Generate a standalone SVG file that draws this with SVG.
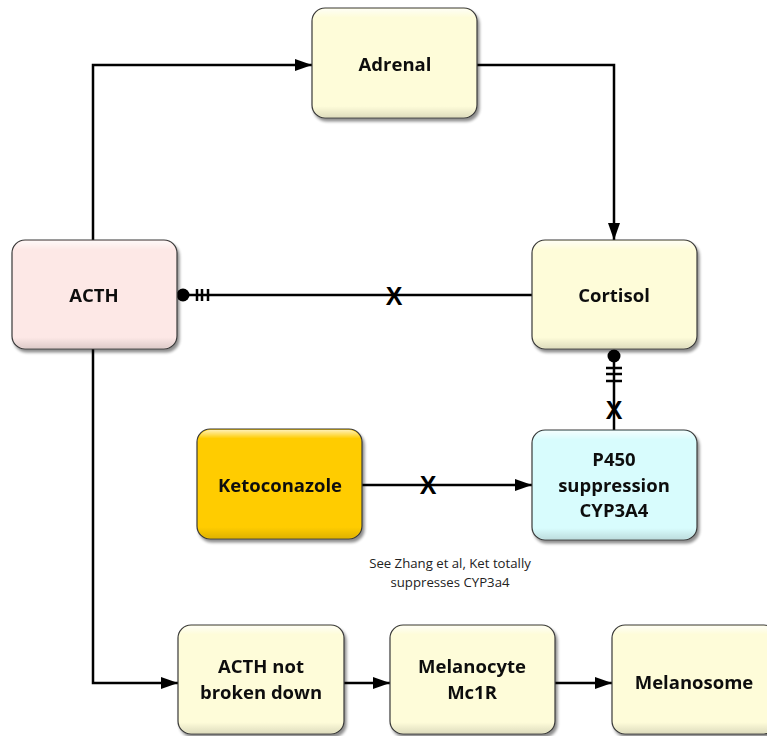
<svg xmlns="http://www.w3.org/2000/svg" width="767" height="736" viewBox="0 0 767 736">
<defs>
<filter id="sh" x="-10%" y="-10%" width="125%" height="130%">
<feGaussianBlur in="SourceAlpha" stdDeviation="1.5"/>
<feOffset dx="1.5" dy="2.5" result="b"/>
<feComponentTransfer><feFuncA type="linear" slope="0.45"/></feComponentTransfer>
<feMerge><feMergeNode/><feMergeNode in="SourceGraphic"/></feMerge>
</filter>
<linearGradient id="hl" x1="0" y1="0" x2="0" y2="1">
<stop offset="0" stop-color="#fff" stop-opacity="0.7"/>
<stop offset="0.08" stop-color="#fff" stop-opacity="0"/>
<stop offset="0.9" stop-color="#000" stop-opacity="0"/>
<stop offset="1" stop-color="#000" stop-opacity="0.12"/>
</linearGradient>
<marker id="ar" viewBox="0 0 17 12" refX="17" refY="6" markerWidth="17" markerHeight="12" markerUnits="userSpaceOnUse" orient="auto">
<path d="M0,0 L17,6 L0,12 Z" fill="#000"/>
</marker>
</defs>
<style>
.box{stroke:#3a3a3a;stroke-width:1.2}
.y{fill:#fefcd9}
.hl{fill:url(#hl);stroke:none}
.lbl{font-family:"Open Sans","Liberation Sans",sans-serif;font-weight:bold;font-size:18.5px;fill:#111;text-anchor:middle}
.ln{fill:none;stroke:#000;stroke-width:2.5}
.x{font-family:"Liberation Sans",sans-serif;font-weight:bold;font-size:25px;fill:#000;text-anchor:middle}
.note{font-family:"Open Sans","Liberation Sans",sans-serif;font-size:13.2px;fill:#222;text-anchor:middle}
</style>
<g id="connectors">
<path class="ln" d="M93,240 V65 H312" marker-end="url(#ar)"/>
<path class="ln" d="M477,65 H614 V240" marker-end="url(#ar)"/>
<path class="ln" d="M532,295 H183"/>
<circle cx="183" cy="295" r="6.5"/>
<path class="ln" d="M197,289 v12 M202,289 v12 M208,289 v12" stroke-width="2"/>
<text class="x" x="394" y="305">X</text>
<path class="ln" d="M614,356 V430"/>
<circle cx="614" cy="356" r="6.5"/>
<path class="ln" d="M606,368 h16 M606,374 h16 M606,381 h16" stroke-width="2"/>
<text class="x" x="614" y="419">X</text>
<path class="ln" d="M362,485 H532" marker-end="url(#ar)"/>
<text class="x" x="428" y="494">X</text>
<path class="ln" d="M93,349 V683 H178" marker-end="url(#ar)"/>
<path class="ln" d="M344,683 H390" marker-end="url(#ar)"/>
<path class="ln" d="M555,683 H612" marker-end="url(#ar)"/>
</g>
<g id="adrenal" filter="url(#sh)">
<rect class="box y" x="312" y="8" width="165" height="110" rx="13"/>
<rect class="hl" x="313" y="9" width="163" height="108" rx="12"/>
<text class="lbl" x="395" y="71">Adrenal</text>
</g>
<g id="acth" filter="url(#sh)">
<rect class="box" fill="#fde8e6" x="12" y="240" width="165" height="109" rx="13"/>
<rect class="hl" x="13" y="241" width="163" height="107" rx="12"/>
<text class="lbl" x="94" y="302">ACTH</text>
</g>
<g id="cortisol" filter="url(#sh)">
<rect class="box y" x="532" y="240" width="165" height="109" rx="13"/>
<rect class="hl" x="533" y="241" width="163" height="107" rx="12"/>
<text class="lbl" x="614" y="302">Cortisol</text>
</g>
<g id="ketoconazole" filter="url(#sh)">
<rect class="box" fill="#ffcc00" x="197" y="429" width="165" height="110" rx="13"/>
<rect class="hl" x="198" y="430" width="163" height="108" rx="12"/>
<text class="lbl" x="280" y="492">Ketoconazole</text>
</g>
<g id="p450" filter="url(#sh)">
<rect class="box" fill="#d8fcfd" x="532" y="430" width="165" height="110" rx="13"/>
<rect class="hl" x="533" y="431" width="163" height="108" rx="12"/>
<text class="lbl" x="614" y="466">P450</text>
<text class="lbl" x="614" y="492">suppression</text>
<text class="lbl" x="614" y="517">CYP3A4</text>
</g>
<g id="note">
<text class="note" x="450" y="568">See Zhang et al, Ket totally</text>
<text class="note" x="450" y="587">suppresses CYP3a4</text>
</g>
<g id="acth-not-broken-down" filter="url(#sh)">
<rect class="box y" x="178" y="625" width="166" height="109" rx="13"/>
<rect class="hl" x="179" y="626" width="164" height="107" rx="12"/>
<text class="lbl" x="261" y="673">ACTH not</text>
<text class="lbl" x="261" y="699">broken down</text>
</g>
<g id="melanocyte" filter="url(#sh)">
<rect class="box y" x="390" y="625" width="165" height="109" rx="13"/>
<rect class="hl" x="391" y="626" width="163" height="107" rx="12"/>
<text class="lbl" x="472" y="673">Melanocyte</text>
<text class="lbl" x="472" y="699">Mc1R</text>
</g>
<g id="melanosome" filter="url(#sh)">
<rect class="box y" x="612" y="625" width="165" height="109" rx="13"/>
<rect class="hl" x="613" y="626" width="163" height="107" rx="12"/>
<text class="lbl" x="694" y="689">Melanosome</text>
</g>
</svg>
